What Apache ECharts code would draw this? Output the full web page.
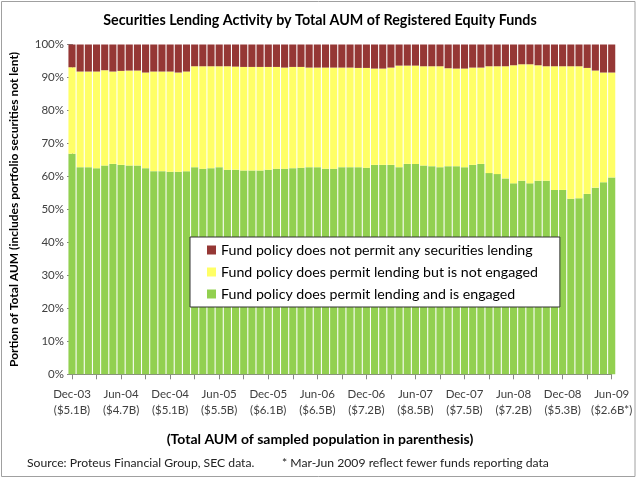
<!DOCTYPE html>
<html>
<head>
<meta charset="utf-8">
<script src="https://cdn.jsdelivr.net/npm/echarts@6/dist/echarts.min.js"></script>
<style>
  html, body { margin: 0; padding: 0; background: #fff; }
  #chart { width: 640px; height: 481px; }
</style>
</head>
<body>
<div id="chart"></div>
<script>
// monthly samples, Dec-03 .. Jun-09
const months = [
  'Dec-03',
  'Jan-04','Feb-04','Mar-04','Apr-04','May-04','Jun-04','Jul-04','Aug-04','Sep-04','Oct-04','Nov-04','Dec-04',
  'Jan-05','Feb-05','Mar-05','Apr-05','May-05','Jun-05','Jul-05','Aug-05','Sep-05','Oct-05','Nov-05','Dec-05',
  'Jan-06','Feb-06','Mar-06','Apr-06','May-06','Jun-06','Jul-06','Aug-06','Sep-06','Oct-06','Nov-06','Dec-06',
  'Jan-07','Feb-07','Mar-07','Apr-07','May-07','Jun-07','Jul-07','Aug-07','Sep-07','Oct-07','Nov-07','Dec-07',
  'Jan-08','Feb-08','Mar-08','Apr-08','May-08','Jun-08','Jul-08','Aug-08','Sep-08','Oct-08','Nov-08','Dec-08',
  'Jan-09','Feb-09','Mar-09','Apr-09','May-09','Jun-09'
];

// total AUM shown under every 6th month label
const aumLabels = ['($5.1B)','($4.7B)','($5.1B)','($5.5B)','($6.1B)','($6.5B)',
  '($7.2B)','($8.5B)','($7.5B)','($7.2B)','($5.3B)','($2.6B*)'];

// % of total AUM
const engaged = [
  66.9, 62.8, 62.8, 62.5, 63.3, 63.8, 63.5, 63.3, 63.3, 62.5, 61.6, 61.6, 61.4,
  61.4, 61.6, 62.8, 62.3, 62.5, 62.8, 62.0, 62.0, 61.8, 61.8, 61.8, 62.0,
  62.3, 62.3, 62.5, 62.6, 62.8, 62.8, 62.3, 62.3, 62.8, 62.8, 62.8, 62.6,
  63.5, 63.5, 63.5, 62.8, 63.8, 63.8, 63.3, 63.1, 62.8, 63.1, 63.1, 62.8,
  63.5, 63.8, 61.0, 60.7, 59.4, 57.9, 58.7, 57.9, 58.7, 58.7, 55.9, 55.9,
  53.2, 53.4, 54.7, 56.6, 58.2, 59.7
];
const notEngaged = [
  26.2, 29.0, 29.0, 29.3, 28.9, 28.0, 28.5, 28.8, 28.8, 29.0, 30.2, 30.2, 30.4,
  30.1, 30.2, 30.6, 31.1, 30.9, 30.6, 31.4, 31.3, 31.4, 31.4, 31.4, 31.2,
  30.9, 30.7, 30.7, 30.6, 30.2, 30.2, 30.7, 30.7, 30.2, 30.2, 30.1, 30.3,
  29.2, 29.2, 29.5, 30.8, 29.8, 29.8, 30.1, 30.3, 30.6, 29.7, 29.6, 29.9,
  29.5, 29.2, 32.4, 32.7, 34.0, 35.8, 35.3, 36.1, 35.0, 34.7, 37.5, 37.5,
  40.2, 40.0, 38.2, 35.5, 33.3, 31.8
];
const notPermitted = [
  6.9, 8.2, 8.2, 8.2, 7.8, 8.2, 8.0, 7.9, 7.9, 8.5, 8.2, 8.2, 8.2,
  8.5, 8.2, 6.6, 6.6, 6.6, 6.6, 6.6, 6.7, 6.8, 6.8, 6.8, 6.8,
  6.8, 7.0, 6.8, 6.8, 7.0, 7.0, 7.0, 7.0, 7.0, 7.0, 7.1, 7.1,
  7.3, 7.3, 7.0, 6.4, 6.4, 6.4, 6.6, 6.6, 6.6, 7.2, 7.3, 7.3,
  7.0, 7.0, 6.6, 6.6, 6.6, 6.3, 6.0, 6.0, 6.3, 6.6, 6.6, 6.6,
  6.6, 6.6, 7.1, 7.9, 8.5, 8.5
];

const names = [
  'Fund policy does not permit any securities lending',
  'Fund policy does permit lending but is not engaged',
  'Fund policy does permit lending and is engaged'
];

const font = 'Lato, "Open Sans", sans-serif';
const chart = echarts.init(document.getElementById('chart'));

function bar(name, data, color) {
  return {
    name: name,
    type: 'bar',
    stack: 'total',
    data: data,
    barCategoryGap: '13%',
    itemStyle: { color: color },
    clip: true,
    silent: true
  };
}

chart.setOption({
  animation: false,
  textStyle: { fontFamily: font },
  title: [
    {
      text: 'Securities Lending Activity by Total AUM of Registered Equity Funds',
      left: 'center', top: 8,
      textStyle: { fontSize: 14.3, fontWeight: 'bold', color: '#000', fontFamily: font }
    },
    {
      text: '(Total AUM of sampled population in parenthesis)',
      left: 'center', top: 427,
      textStyle: { fontSize: 14, fontWeight: 'bold', color: '#000', fontFamily: font }
    },
    {
      text: 'Source: Proteus Financial Group, SEC data.',
      left: 22, top: 452,
      textStyle: { fontSize: 12.2, fontWeight: 'normal', color: '#222', fontFamily: font }
    },
    {
      text: '* Mar-Jun 2009 reflect fewer funds reporting data',
      left: 277, top: 452,
      textStyle: { fontSize: 12.2, fontWeight: 'normal', color: '#222', fontFamily: font }
    }
  ],
  legend: {
    data: names,
    orient: 'vertical',
    left: 190, top: 237,
    backgroundColor: '#fff',
    borderColor: '#333',
    borderWidth: 1,
    padding: [5, 22, 5, 17],
    itemWidth: 9, itemHeight: 9, itemGap: 6,
    icon: 'rect',
    selectedMode: false,
    textStyle: { fontSize: 14.2, lineHeight: 16, color: '#000', fontFamily: font }
  },
  grid: { left: 66.7, right: 28.3, top: 44.5, bottom: 106.7 },
  xAxis: {
    type: 'category',
    data: months,
    boundaryGap: false,
    axisLine: { lineStyle: { color: '#868686' } },
    axisTick: { interval: 2, length: 5, lineStyle: { color: '#868686' } },
    axisLabel: {
      interval: 5,
      color: '#404040',
      fontSize: 11.5,
      lineHeight: 16,
      margin: 12,
      formatter: (v, i) => v + '\n' + aumLabels[i / 6]
    },
    splitLine: { show: false }
  },
  yAxis: {
    type: 'value',
    min: 0, max: 100, interval: 10,
    name: 'Portion of Total AUM (includes portfolio securities not lent)',
    nameLocation: 'middle',
    nameGap: 52,
    nameTextStyle: { fontSize: 12, fontWeight: 'bold', color: '#000', fontFamily: font },
    axisLine: { show: true, lineStyle: { color: '#868686' } },
    axisTick: { show: true, length: 5, lineStyle: { color: '#868686' } },
    axisLabel: { formatter: '{value}%', color: '#404040', fontSize: 11.5, margin: 8 },
    splitLine: { show: false }
  },
  graphic: [{
    type: 'rect',
    shape: { x: 1.5, y: 1.5, width: 633.5, height: 475 },
    style: { fill: 'none', stroke: '#a0a0a0', lineWidth: 1 },
    silent: true, z: -1
  }],
  series: [
    bar(names[2], engaged, '#92d050'),
    bar(names[1], notEngaged, '#ffff66'),
    bar(names[0], notPermitted, '#953735')
  ]
});
</script>
</body>
</html>
